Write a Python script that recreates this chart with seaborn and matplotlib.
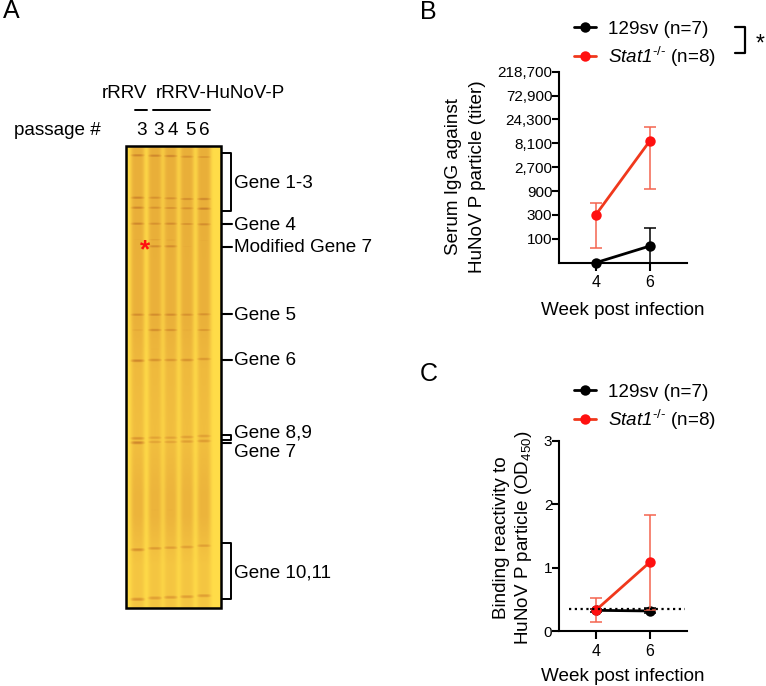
import numpy as np
import pandas as pd
import matplotlib
matplotlib.use('Agg')
import matplotlib.pyplot as plt
from matplotlib.colors import LinearSegmentedColormap
from matplotlib.patches import Rectangle
import seaborn as sns

# panel B / C values
weeks = [4, 6]
titer_ticks = [100, 300, 900, 2700, 8100, 24300, 72900, 218700]
od_ticks = [0, 1, 2, 3]

titer_wt = [33.3, 72]
titer_wt_lo = [33.3, 33.3]
titer_wt_hi = [33.3, 166]
titer_ko = [300, 9170]
titer_ko_lo = [66, 1010]
titer_ko_hi = [530, 17500]

od_wt = [0.33, 0.32]
od_wt_lo = [0.31, 0.29]
od_wt_hi = [0.35, 0.36]
od_ko = [0.33, 1.09]
od_ko_lo = [0.14, 0.33]
od_ko_hi = [0.53, 1.83]
od_cutoff = 0.35

passages = ['3', '3', '4', '5', '6']
passage_x = [141.7, 158.3, 173.3, 190.7, 204.7]
lane_x = [137.7, 155, 170.7, 187, 204]
band_y = [
    [155.3, 155.7, 156, 156.7, 157],
    [197.7, 197.7, 198.3, 199, 199],
    [207.7, 207.7, 208, 208.3, 208.7],
    [223.7, 223.7, 223.7, 224, 224.3],
    [234.7, 234.7, 234.7, 235, 235],
    [239.7, 239.7, 240, 240, 240.5],
    [246.3, 246.3, 246.3, 246.5, 246.7],
    [314.7, 314.7, 314.7, 314.7, 314.3],
    [330, 330, 330, 330, 330],
    [349, 349, 349, 349, 349],
    [360.7, 360, 360, 360, 359],
    [438.3, 437.7, 437.7, 437, 436],
    [442.7, 442, 442, 441.5, 441],
    [510, 510, 510, 509, 508],
    [549.7, 548.3, 547.7, 547, 545.7],
    [599.3, 598, 597.3, 596.7, 595.7],
]
band_dark = [
    [.85, .85, .85, .75, .7],
    [.85, .75, .75, .8, .85],
    [.85, .75, .75, .75, .9],
    [.85, .75, .8, .75, .8],
    [.35, .4, .35, .3, .3],
    [.45, .55, .5, .4, .45],
    [0, .8, .8, .45, .4],
    [.8, .8, .8, .75, .75],
    [.5, .8, .75, .45, .7],
    [.3, .38, .35, .3, .3],
    [.85, .75, .7, .75, .7],
    [.7, .55, .55, .6, .6],
    [.85, .55, .55, .6, .65],
    [.25, .4, .4, .2, .25],
    [.75, .65, .6, .6, .6],
    [.7, .6, .6, .6, .6],
]
zone_edges = [146, 240, 345, 400, 470, 540, 608]
zone_shade = [.42, .4, .3, .27, .36, .2]

gene_labels = ['Gene 1-3', 'Gene 4', 'Modified Gene 7', 'Gene 5', 'Gene 6',
               'Gene 8,9', 'Gene 7', 'Gene 10,11']
gene_label_y = [183, 225.5, 247.5, 315, 360.5, 433.5, 452.5, 572.5]
gene_tick_y = [224, 246.7, 314, 360]
gene_bracket_y = [(152.7, 211.3), (435, 440), (543.3, 599.3)]

sns.set_theme(style='ticks')
plt.rcParams['font.family'] = ['Liberation Sans', 'DejaVu Sans']
plt.rcParams['mathtext.fontset'] = 'custom'
plt.rcParams['mathtext.rm'] = 'Liberation Sans'
plt.rcParams['mathtext.it'] = 'Liberation Sans:italic'
plt.rcParams['mathtext.cal'] = 'Liberation Sans:italic'

W, H = 766, 686
fig = plt.figure(figsize=(W / 100, H / 100), dpi=100, facecolor='white')


def px_axes(x0, y_top, x1, y_bottom):
    return fig.add_axes([x0 / W, 1 - y_bottom / H, (x1 - x0) / W, (y_bottom - y_top) / H])


BLACK = '#000000'
RED_LINE = '#F0381C'
RED_ERR = '#F4654F'
RED_DOT = '#FF1010'
FS = 13.6


def draw_panel(ax, wt, wt_lo, wt_hi, ko, ko_lo, ko_hi, legend_top):
    df = pd.DataFrame({'week': weeks + weeks,
                       'value': wt + ko,
                       'group': ['129sv'] * 2 + ['ko'] * 2})
    ax.errorbar(weeks, wt, yerr=[np.array(wt) - wt_lo, np.array(wt_hi) - wt], fmt='none',
                ecolor=BLACK, elinewidth=1.1, capsize=4.5, capthick=1.1, clip_on=False, zorder=2)
    sns.lineplot(data=df[df.group == '129sv'], x='week', y='value', ax=ax, color=BLACK,
                 marker='o', markersize=7.5, linewidth=2, markeredgewidth=0, errorbar=None,
                 clip_on=False, zorder=3, label='129sv (n=7)')
    ax.errorbar(weeks, ko, yerr=[np.array(ko) - ko_lo, np.array(ko_hi) - ko], fmt='none',
                ecolor=RED_ERR, elinewidth=1.1, capsize=4.5, capthick=1.1, clip_on=False, zorder=4)
    sns.lineplot(data=df[df.group == 'ko'], x='week', y='value', ax=ax, color=RED_LINE,
                 marker='o', markersize=7.5, linewidth=2, markeredgewidth=0,
                 markerfacecolor=RED_DOT, errorbar=None, clip_on=False, zorder=5,
                 label=r'$\mathcal{Stat1}^{\mathcal{\text{-/-}}}$ (n=8)')
    ax.set_xlim(2.66, 7.35)
    ax.set_xticks(weeks)
    sns.despine(ax=ax)
    for s in ['left', 'bottom']:
        ax.spines[s].set_linewidth(1.5)
        ax.spines[s].set_color(BLACK)
    ax.tick_params(axis='y', width=1.5, length=5, labelsize=11, color=BLACK,
                   labelcolor=BLACK, pad=0)
    ax.tick_params(axis='x', width=1.5, length=6, pad=3, labelsize=11.5, color=BLACK,
                   labelcolor=BLACK)
    ax.set_xlabel('Week post infection', fontsize=FS, color=BLACK)
    ax.legend(loc='upper left', frameon=False, fontsize=FS, handlelength=1.15,
              handletextpad=0.65, labelspacing=0.36, borderpad=0, borderaxespad=0,
              labelcolor=BLACK, bbox_transform=fig.transFigure,
              bbox_to_anchor=(574 / W, 1 - legend_top / H))


# panel B
ax_b = px_axes(559.3, 71.7, 686.7, 262.7)
draw_panel(ax_b, titer_wt, titer_wt_lo, titer_wt_hi, titer_ko, titer_ko_lo, titer_ko_hi, 20.5)
ax_b.set_yscale('log', base=3)
ax_b.set_ylim(33.33, 218700)
ax_b.set_yticks(titer_ticks)
ax_b.set_yticklabels([f'{t:,}' for t in titer_ticks])
ax_b.minorticks_off()
ax_b.set_ylabel('Serum IgG against\nHuNoV P particle (titer)', fontsize=FS, color=BLACK,
                linespacing=1.55)
ax_b.yaxis.set_label_coords(-0.575, 0.45)
ax_b.xaxis.set_label_coords(0.495, -0.205)

# panel C
ax_c = px_axes(559.3, 440.7, 686.7, 631.3)
draw_panel(ax_c, od_wt, od_wt_lo, od_wt_hi, od_ko, od_ko_lo, od_ko_hi, 383.5)
ax_c.set_ylim(0, 3)
ax_c.set_yticks(od_ticks)
ax_c.hlines(od_cutoff, 3.0, 7.3, color=BLACK, linestyle=(0, (1, 1.6)), linewidth=1.6,
            zorder=6, clip_on=False)
ax_c.set_ylabel('Binding reactivity to\nHuNoV P particle (OD$_{450}$)', fontsize=FS, color=BLACK,
                linespacing=1.2)
ax_c.yaxis.set_label_coords(-0.20, 0.493)
ax_c.xaxis.set_label_coords(0.495, -0.19)

# panel A gel, one cell per pixel
gel_x0, gel_x1, gel_y0, gel_y1 = 126, 221, 146, 608
xs = np.arange(gel_x0, gel_x1) + 0.5
ys = np.arange(gel_y0, gel_y1) + 0.5
shade_by_row = np.zeros(len(ys))
for top, bottom, shade in zip(zone_edges[:-1], zone_edges[1:], zone_shade):
    shade_by_row[(ys >= top) & (ys < bottom)] = shade
# soften the zone steps so the lanes fade along their length
shade_by_row = np.convolve(np.pad(shade_by_row, 25, mode='edge'), np.ones(51) / 51, mode='valid')
lanes = np.zeros(len(xs))
for lx in lane_x:
    lanes += np.exp(-((xs - lx) / 7) ** 4)
gel = np.outer(shade_by_row, lanes)
for y_row, dark_row in zip(band_y, band_dark):
    for lx, y, d in zip(lane_x, y_row, dark_row):
        across = np.exp(-((xs - lx) / 6.5) ** 4)
        along = np.exp(-((ys - y) / 2.0) ** 2)
        gel = np.maximum(gel, d * np.outer(along, across))
gel_cmap = LinearSegmentedColormap.from_list('gel', ['#FFDC48', '#EDB63C', '#DC9A30', '#C47A2A'])
ax_gel = px_axes(gel_x0, gel_y0, gel_x1, gel_y1)
sns.heatmap(gel, ax=ax_gel, cmap=gel_cmap, vmin=0, vmax=1, cbar=False,
            xticklabels=False, yticklabels=False, rasterized=True)

# everything drawn in picture pixels goes on top
ov = fig.add_axes([0, 0, 1, 1])
ov.set_xlim(0, W)
ov.set_ylim(H, 0)
ov.axis('off')
ov.patch.set_alpha(0)

ov.add_patch(Rectangle((gel_x0, gel_y0), gel_x1 - gel_x0, gel_y1 - gel_y0, fill=False,
                       edgecolor=BLACK, linewidth=1.8))
ov.text(145.5, 250, '*', color='#FF1010', fontsize=19, fontweight='bold', ha='center', va='center')

ov.text(124.5, 93.5, 'rRRV', fontsize=FS, ha='center', va='center', color=BLACK)
ov.text(220, 93.5, 'rRRV-HuNoV-P', fontsize=FS, ha='center', va='center', color=BLACK)
ov.plot([135, 147.3], [110, 110], color=BLACK, lw=1.4)
ov.plot([152.7, 210], [110, 110], color=BLACK, lw=1.4)
ov.text(14, 130.5, 'passage #', fontsize=FS, ha='left', va='center', color=BLACK)
for x, p in zip(passage_x, passages):
    ov.text(x, 130.5, p, fontsize=FS, ha='center', va='center', color=BLACK)

for y in gene_tick_y:
    ov.plot([222, 232], [y, y], color=BLACK, lw=1.5)
ov.plot([222, 231], [443, 443], color=BLACK, lw=1.5)
for top, bottom in gene_bracket_y:
    ov.plot([222, 230.7, 230.7, 222], [top, top, bottom, bottom], color=BLACK, lw=1.4)
for y, name in zip(gene_label_y, gene_labels):
    ov.text(234, y, name, fontsize=FS, ha='left', va='center', color=BLACK)

ov.plot([735, 745, 745, 735], [26.7, 26.7, 52.7, 52.7], color=BLACK, lw=1.6)
ov.text(760, 44, '*', fontsize=FS + 3, ha='center', va='center', color=BLACK)

ov.text(3, 11, 'A', fontsize=18, ha='left', va='center', color=BLACK)
ov.text(420, 12, 'B', fontsize=18, ha='left', va='center', color=BLACK)
ov.text(420, 374, 'C', fontsize=18, ha='left', va='center', color=BLACK)

fig.savefig('out.png', dpi=100)
